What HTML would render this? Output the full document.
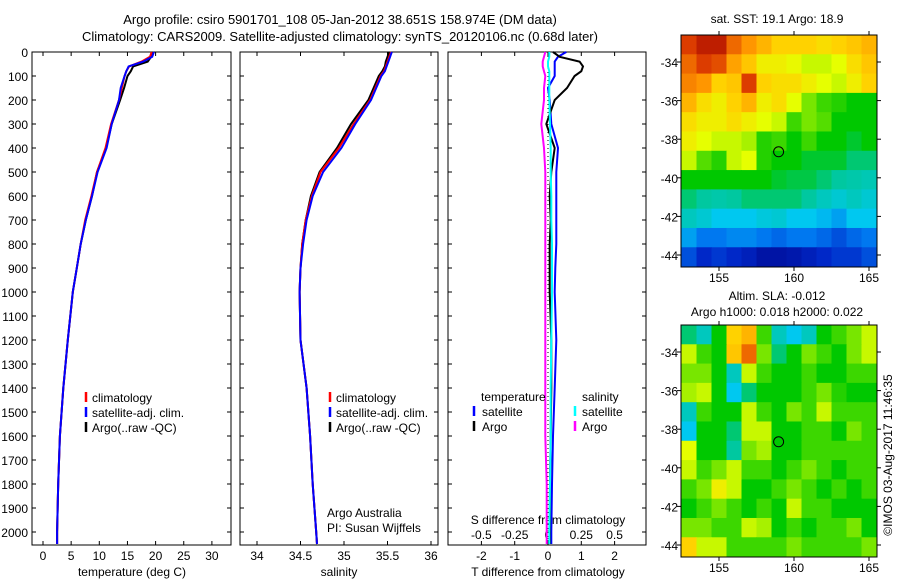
<!DOCTYPE html>
<html><head><meta charset="utf-8">
<style>
body{margin:0;background:#fff;}
svg{display:block;font-family:"Liberation Sans",sans-serif;font-size:12px;}
</style></head>
<body>
<svg id="c" width="900" height="580" viewBox="0 0 900 580">
<text x="340" y="24" text-anchor="middle" font-size="13">Argo profile: csiro 5901701_108 05-Jan-2012 38.651S 158.974E (DM data)</text>
<text x="340" y="41" text-anchor="middle" font-size="13">Climatology: CARS2009. Satellite-adjusted climatology: synTS_20120106.nc (0.68d later)</text>
<text x="777" y="23" text-anchor="middle">sat. SST: 19.1 Argo: 18.9</text>
<text x="777" y="300" text-anchor="middle">Altim. SLA: -0.012</text>
<text x="777" y="316" text-anchor="middle">Argo h1000: 0.018 h2000: 0.022</text>
<text transform="translate(892,455) rotate(-90)" text-anchor="middle">©IMOS 03-Aug-2017 11:46:35</text>
</svg>
<script>
// ---- data ----
const depths=[0,20,40,60,80,100,150,200,300,400,500,600,700,800,900,1000,1200,1400,1600,1800,2000,2050];
const tempArgo=[19.5,19.2,18.6,16.0,15.6,15.0,14.4,13.7,12.2,11.2,9.6,8.7,7.6,6.7,6.0,5.3,4.4,3.6,3.0,2.7,2.5,2.5];
const tempClim=[19.3,19.0,17.5,15.3,14.8,14.5,14.0,13.5,12.1,11.1,9.6,8.6,7.5,6.7,6.0,5.3,4.4,3.6,3.0,2.7,2.5,2.5];
const tempSat=[19.7,19.4,17.8,15.2,14.8,14.5,13.8,13.5,12.2,11.3,9.7,8.7,7.6,6.7,6.0,5.3,4.4,3.6,3.0,2.7,2.5,2.5];
const salArgo=[35.52,35.5,35.48,35.47,35.44,35.40,35.34,35.28,35.08,34.92,34.72,34.62,34.56,34.52,34.50,34.49,34.50,34.57,34.61,34.64,34.68,34.69];
const salClim=[35.54,35.52,35.5,35.48,35.46,35.42,35.36,35.30,35.11,34.94,34.73,34.63,34.56,34.52,34.50,34.49,34.50,34.57,34.61,34.64,34.68,34.69];
const salSat=[35.55,35.53,35.51,35.49,35.47,35.43,35.37,35.31,35.13,34.97,34.76,34.64,34.57,34.53,34.50,34.49,34.50,34.57,34.61,34.64,34.68,34.69];
const dTArgo=[0.15,0.35,0.95,1.05,1.0,0.8,0.57,0.2,-0.05,0.2,0.1,0.05,0.08,0.05,0.05,0.05,0.1,0.1,0.08,0.06,0.05,0.05];
const dTSat=[0.55,0.3,0.2,0.2,0.2,0.2,0.0,0.05,0.1,0.3,0.25,0.25,0.25,0.25,0.22,0.2,0.25,0.2,0.15,0.12,0.1,0.1];
const dSArgo=[-0.02,-0.03,-0.04,-0.04,-0.03,-0.02,-0.03,-0.03,-0.05,-0.03,-0.02,-0.02,-0.02,-0.02,-0.02,-0.02,-0.02,-0.02,-0.02,-0.01,-0.01,-0.01];
const dSSat=[0.01,0.01,0.0,0.0,0.01,0.01,0.01,0.01,0.015,0.02,0.02,0.025,0.025,0.03,0.03,0.03,0.025,0.02,0.02,0.015,0.01,0.01];
const depthTicks=[0,100,200,300,400,500,600,700,800,900,1000,1100,1200,1300,1400,1500,1600,1700,1800,1900,2000];
const tTicks=[0,5,10,15,20,25,30];
const sTicks=[34,34.5,35,35.5,36];
const sTickLabels=['34','34.5','35','35.5','36'];
const dTTicks=[-2,-1,0,1,2];
const dSTicks=[-0.5,-0.25,0,0.25,0.5];
const dSTickLabels=['-0.5','-0.25','0','0.25','0.5'];
const lonTicks=[155,160,165];
const latTicks=[-34,-36,-38,-40,-42,-44];
const sstGrid=[
[.9,.95,.95,.85,.8,.75,.7,.7,.7,.68,.7,.72,.75],
[.85,.9,.88,.78,.72,.65,.65,.63,.6,.6,.62,.68,.72],
[.82,.8,.7,.72,.9,.7,.68,.68,.65,.62,.6,.65,.7],
[.75,.68,.65,.7,.75,.65,.68,.62,.55,.5,.48,.45,.45],
[.68,.65,.65,.68,.65,.62,.6,.5,.55,.52,.45,.45,.45],
[.65,.62,.6,.6,.58,.48,.5,.45,.5,.45,.45,.43,.45],
[.6,.52,.48,.6,.62,.48,.45,.45,.43,.43,.43,.4,.4],
[.45,.45,.45,.45,.45,.45,.43,.42,.42,.4,.38,.37,.36],
[.4,.38,.37,.38,.4,.4,.4,.4,.38,.35,.33,.35,.33],
[.35,.33,.3,.3,.3,.32,.33,.3,.3,.28,.25,.3,.3],
[.25,.2,.2,.22,.22,.2,.18,.2,.2,.18,.15,.18,.2],
[.15,.1,.12,.1,.08,.05,.05,.06,.08,.1,.12,.12,.15]];
const slaGrid=[
[.4,.35,.45,.7,.75,.5,.35,.3,.35,.45,.5,.55,.6],
[.6,.5,.45,.72,.85,.55,.4,.45,.55,.5,.45,.55,.6],
[.55,.55,.45,.35,.6,.5,.45,.45,.5,.45,.45,.5,.5],
[.58,.6,.45,.3,.4,.45,.45,.45,.5,.55,.48,.45,.45],
[.35,.5,.45,.45,.6,.5,.45,.55,.5,.6,.5,.5,.5],
[.3,.45,.45,.4,.6,.6,.45,.45,.5,.5,.45,.55,.5],
[.62,.45,.45,.38,.55,.58,.45,.45,.5,.5,.5,.5,.5],
[.6,.5,.55,.6,.5,.5,.45,.5,.55,.5,.45,.5,.5],
[.5,.55,.65,.6,.45,.45,.5,.55,.5,.45,.5,.45,.5],
[.45,.5,.55,.5,.45,.5,.45,.6,.5,.5,.45,.45,.45],
[.55,.55,.5,.5,.6,.58,.45,.5,.45,.5,.5,.55,.45],
[.7,.6,.6,.5,.5,.5,.5,.55,.5,.5,.5,.5,.55]];
const argoLon=158.974, argoLat=-38.651;

const svg=document.getElementById('c');
const NS='http://www.w3.org/2000/svg';
function mk(tag,at,parent){const e=document.createElementNS(NS,tag);for(const k in at)e.setAttribute(k,at[k]);(parent||svg).appendChild(e);return e;}
const Y0=52,Y1=545;
const yD=d=>Y0+d*0.24;
function profile(vals,xf,color,name,w){
  const p=mk('polyline',{points:vals.map((v,i)=>xf(v).toFixed(1)+','+yD(depths[i]).toFixed(1)).join(' '),fill:'none',stroke:color,'stroke-width':w||2});
  
  
}
function frame(x0,x1,name){
  const r=mk('rect',{x:x0,y:Y0,width:x1-x0,height:Y1-Y0,fill:'none',stroke:'#000','stroke-width':1});
  
  
  depthTicks.forEach(d=>{mk('line',{x1:x0,x2:x0+4,y1:yD(d),y2:yD(d),stroke:'#000'});mk('line',{x1:x1,x2:x1-4,y1:yD(d),y2:yD(d),stroke:'#000'});});
}
function xticks(x0,x1,ticks,labels,xf,y,name,top){
  ticks.forEach((t,i)=>{const x=xf(t);
    mk('line',{x1:x,x2:x,y1:Y1,y2:Y1-4,stroke:'#000'});
    if(top) mk('line',{x1:x,x2:x,y1:Y0,y2:Y0+4,stroke:'#000'});
    const tx=mk('text',{x:x,y:y,'text-anchor':'middle'});tx.textContent=labels[i];
    
    
  });
}
function label(x,y,s,name,anchor){const t=mk('text',{x:x,y:y,'text-anchor':anchor||'start'});t.textContent=s;return t;}
function legBar(x,y,c,name){const l=mk('line',{x1:x,x2:x,y1:y-10,y2:y,stroke:c,'stroke-width':2.5});}

// panel 1: temperature
const xT=v=>43+5.63*v;
frame(32,231,'temperature-axes');
depthTicks.forEach(d=>label(28,yD(d)+5,String(d),'depth-tick-label','end'));
xticks(32,231,tTicks,tTicks.map(String),xT,560,'temperature-tick-label',true);
label(132,576,'temperature (deg C)','temperature-axis-title','middle');
profile(tempArgo,xT,'#000','temp-argo-line');
profile(tempClim,xT,'#f00','temp-climatology-line');
profile(tempSat,xT,'#00f','temp-satellite-line');
[['climatology','#f00'],['satellite-adj. clim.','#00f'],['Argo(..raw -QC)','#000']].forEach((e,i)=>{legBar(86,402+15*i,e[1],'temp-legend-marker');label(92,402+15*i,e[0],'temp-legend-entry');});

// panel 2: salinity
const xS=v=>257+87*(v-34);
frame(240,438,'salinity-axes');
xticks(240,438,sTicks,sTickLabels,xS,560,'salinity-tick-label',true);
label(339,576,'salinity','salinity-axis-title','middle');
profile(salArgo,xS,'#000','sal-argo-line');
profile(salClim,xS,'#f00','sal-climatology-line');
profile(salSat,xS,'#00f','sal-satellite-line');
[['climatology','#f00'],['satellite-adj. clim.','#00f'],['Argo(..raw -QC)','#000']].forEach((e,i)=>{legBar(330,402+15*i,e[1],'sal-legend-marker');label(336,402+15*i,e[0],'sal-legend-entry');});
label(327,517,'Argo Australia','argo-australia-label');
label(327,532,'PI: Susan Wijffels','pi-label');

// panel 3: differences
const xDT=v=>548+33.3*v, xDS=v=>548+133.2*v;
frame(448,646,'difference-axes');
mk('line',{x1:xDT(0),x2:xDT(0),y1:Y0,y2:Y1,stroke:'#000','stroke-dasharray':'1,3'});
xticks(448,646,dTTicks,dTTicks.map(String),xDT,560,'t-difference-tick-label',true);
dSTicks.forEach((t,i)=>label(xDS(t),539,dSTickLabels[i],'s-difference-tick-label','middle'));
label(548,524,'S difference from climatology','s-difference-axis-title','middle');
label(548,576,'T difference from climatology','t-difference-axis-title','middle');
profile(dTSat,xDT,'#00f','dt-satellite-line');
profile(dTArgo,xDT,'#000','dt-argo-line');
profile(dSArgo,xDS,'#f0f','ds-argo-line');
profile(dSSat,xDS,'#0ff','ds-satellite-line');
label(481,401,'temperature','diff-legend-temperature-heading');
label(582,401,'salinity','diff-legend-salinity-heading');
legBar(474,416,'#00f','legend-marker');label(482,416,'satellite','diff-legend-t-satellite');
legBar(474,431,'#000','legend-marker');label(482,431,'Argo','diff-legend-t-argo');
legBar(575,416,'#0ff','legend-marker');label(582,416,'satellite','diff-legend-s-satellite');
legBar(575,431,'#f0f','legend-marker');label(582,431,'Argo','diff-legend-s-argo');

// maps
const cmapStops=[[0,0,0,130],[0.1,0,40,200],[0.2,0,120,240],[0.3,0,200,240],[0.38,0,200,160],[0.45,0,200,0],[0.55,120,230,0],[0.62,230,255,0],[0.7,255,210,0],[0.8,255,150,0],[0.9,220,60,0],[1,160,0,0]];
function cmap(v){v=Math.max(0,Math.min(1,v));
  for(let i=1;i<cmapStops.length;i++){const a=cmapStops[i-1],b=cmapStops[i];
    if(v<=b[0]){const t=(v-a[0])/(b[0]-a[0]);return 'rgb('+[1,2,3].map(k=>Math.round(a[k]+(b[k]-a[k])*t)).join(',')+')';}}
  return 'rgb(160,0,0)';}
function map(grid,top,bottom,lat34y,lat44y,name){
  const lx=lon=>719+15*(lon-155);
  const ly=lat=>lat34y+(lat44y-lat34y)*(lat+34)/(-10);
  const x0=681,x1=877;
  const g=mk('g',{});
  
  
  grid.forEach((row,j)=>row.forEach((v,i)=>{
    const lonA=152.5+i,latA=-32.6-j;
    const xa=lx(lonA),xb=Math.min(x1,lx(lonA+1)),ya=Math.max(top,ly(latA)),yb=Math.min(bottom,ly(latA-1));
    const c=mk('rect',{x:xa,y:ya,width:xb-xa+0.5,height:yb-ya+0.5,fill:cmap(v)},g);
    
    
  }));
  mk('rect',{x:x0,y:top,width:x1-x0,height:bottom-top,fill:'none',stroke:'#000'});
  lonTicks.forEach(l=>{const x=lx(l);mk('line',{x1:x,x2:x,y1:top,y2:top-4,stroke:'#000'});mk('line',{x1:x,x2:x,y1:bottom,y2:bottom+4,stroke:'#000'});label(x,bottom+15,String(l),'longitude-tick-label','middle');});
  latTicks.forEach(l=>{const y=ly(l);mk('line',{x1:x0,x2:x0-4,y1:y,y2:y,stroke:'#000'});mk('line',{x1:x1,x2:x1+4,y1:y,y2:y,stroke:'#000'});label(678,y+5,String(l),'latitude-tick-label','end');});
  const m=mk('circle',{cx:lx(argoLon),cy:ly(argoLat),r:5,fill:'none',stroke:'#000'});
  
  
}
map(sstGrid,35,267,62,255,'sst-map');
map(slaGrid,325,557,352,545,'sla-map');
</script>
</body></html>
